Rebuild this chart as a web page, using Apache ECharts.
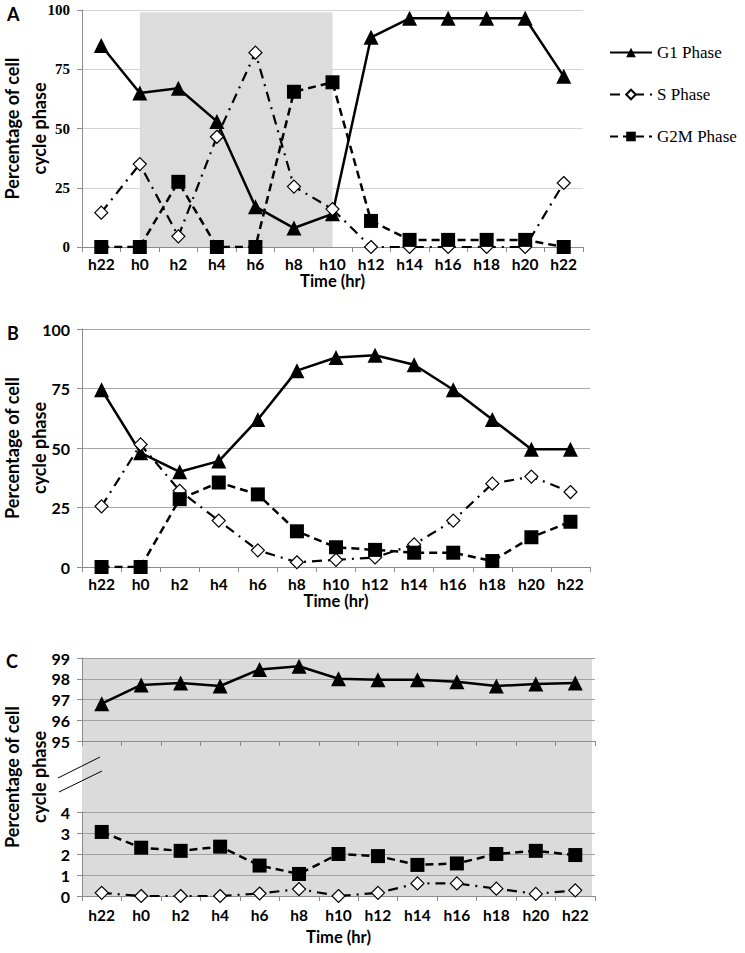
<!DOCTYPE html>
<html><head><meta charset="utf-8">
<script src="https://cdn.jsdelivr.net/npm/echarts@6/dist/echarts.min.js"></script>
<style>html,body{margin:0;padding:0;background:#fff}#c{width:745px;height:953px}</style>
</head><body><div id="c"></div>
<script>
const timeLabels = ['h22','h0','h2','h4','h6','h8','h10','h12','h14','h16','h18','h20','h22'];
const seriesNames = ['G1 Phase','S Phase','G2M Phase'];
const aG1  = [85,65,67,53,17,8,14,88.5,96.5,96.5,96.5,96.5,72];
const aS   = [14.5,35,4.5,46.5,82,25.5,16,0,0,0,0,0,27];
const aG2M = [0,0,27.5,0,0,65.5,69.5,11,3,3,3,3,0];
const bG1  = [74.5,48,40,44.5,62,82.5,88,89,85,74.5,62,49.5,49.5];
const bS   = [25.5,51.5,32,19.5,7,2,3,4,9.5,19.5,35,38,31.5];
const bG2M = [0,0,28.5,35.5,30.5,15,8.3,7.2,6,6,2.5,12.5,19];
const cG1  = [96.8,97.7,97.8,97.65,98.45,98.6,98.0,97.95,97.95,97.85,97.65,97.75,97.8];
const cS   = [0.15,0,0,0,0.12,0.33,0,0.15,0.6,0.6,0.35,0.1,0.27];
const cG2M = [3.05,2.3,2.15,2.35,1.45,1.05,2.0,1.9,1.48,1.55,2.0,2.15,1.95];
const aShade = [1, 6, 0, 99];  // shaded interval: category index from, to; y from, to
const yTicksAB = [0, 100, 25];
const yTicksCtop = [95, 99, 1];
const yTicksCbot = [0, 4, 1];

const sans = 'Lato';
const serif = 'Liberation Serif';
const yTitle = 'Percentage of cell\ncycle phase';

function xAx(grid, opts) {
  return Object.assign({
    type: 'category', gridIndex: grid, data: timeLabels, boundaryGap: true,
    axisLine: {show: true, lineStyle: {color: '#8c8c8c', width: 1}},
    axisTick: {show: true, length: 5, lineStyle: {color: '#8c8c8c'}},
    axisLabel: {fontFamily: sans, fontWeight: 'bold', fontSize: 15.5, lineHeight: 15, color: '#000', margin: 9, interval: 0},
    name: 'Time (hr)', nameLocation: 'middle', nameGap: 26, nameMoveOverlap: false,
    nameTextStyle: {fontFamily: sans, fontWeight: 'bold', fontSize: 16.5, lineHeight: 16, color: '#000'},
    splitLine: {show: false}
  }, opts || {});
}
function yAx(grid, mm, labelFont, labelSize, gridColor, opts) {
  return Object.assign({
    type: 'value', gridIndex: grid, min: mm[0], max: mm[1], interval: mm[2],
    axisLine: {show: true, lineStyle: {color: '#8c8c8c'}},
    axisTick: {show: true, length: 5, lineStyle: {color: '#8c8c8c'}},
    axisLabel: {fontFamily: labelFont, fontWeight: 'bold', fontSize: labelSize, color: '#000', margin: 12},
    splitLine: {show: true, lineStyle: {color: gridColor, width: 1}},
    name: yTitle, nameLocation: 'middle', nameGap: 30, nameRotate: 90, nameMoveOverlap: false,
    nameTextStyle: {fontFamily: sans, fontWeight: 'bold', fontSize: 18, color: '#000', lineHeight: 27}
  }, opts || {});
}
function g1(x, y, data, extra) {
  return Object.assign({name: seriesNames[0], type: 'line', xAxisIndex: x, yAxisIndex: y, data: data,
    symbol: 'triangle', symbolSize: 15, itemStyle: {color: '#000'},
    lineStyle: {color: '#000', width: 2.5, type: 'solid'}, animation: false}, extra || {});
}
function sP(x, y, data) {
  return {name: seriesNames[1], type: 'line', xAxisIndex: x, yAxisIndex: y, data: data,
    symbol: 'diamond', symbolSize: 13, itemStyle: {color: '#fff', borderColor: '#000', borderWidth: 1.2},
    lineStyle: {color: '#000', width: 2.2, type: [10, 6, 2, 6]}, animation: false};
}
function gm(x, y, data) {
  return {name: seriesNames[2], type: 'line', xAxisIndex: x, yAxisIndex: y, data: data,
    symbol: 'rect', symbolSize: 14, itemStyle: {color: '#000'},
    lineStyle: {color: '#000', width: 2.5, type: [8, 5]}, animation: false};
}
function grid(o) { return Object.assign({outerBoundsMode: 'none', containLabel: false}, o); }

const chart = echarts.init(document.getElementById('c'), null, {renderer: 'svg'});
chart.setOption({
  backgroundColor: '#fff',
  animation: false,
  legend: {
    data: seriesNames, orient: 'vertical', left: 604, top: 39,
    itemWidth: 42, itemHeight: 12, itemGap: 25,
    textStyle: {fontFamily: serif, fontSize: 17, color: '#000'}
  },
  grid: [
    grid({left: 82, top: 10, width: 501, height: 237}),
    grid({left: 82, top: 329, width: 508, height: 238}),
    grid({left: 82, top: 658, width: 510, height: 238, show: true, backgroundColor: '#dbdbdb', borderWidth: 0, z: -1}),
    grid({left: 82, top: 658, width: 513, height: 83}),
    grid({left: 82, top: 812, width: 513, height: 84})
  ],
  xAxis: [
    xAx(0),
    xAx(1),
    {type: 'category', gridIndex: 2, data: timeLabels, show: false},
    xAx(3, {axisLabel: {show: false}, name: ''}),
    xAx(4, {nameGap: 33, axisLabel: {fontFamily: sans, fontWeight: 'bold', fontSize: 15.5, lineHeight: 15, color: '#000', margin: 11, interval: 0}})
  ],
  yAxis: [
    yAx(0, yTicksAB, serif, 15, '#d4d4d4'),
    yAx(1, yTicksAB, sans, 16, '#a6a6a6'),
    yAx(2, [0, 1, 1], sans, 16, '#a6a6a6', {axisLine: {show: false}, axisTick: {show: false},
      axisLabel: {show: false}, splitLine: {show: false}}),
    yAx(3, yTicksCtop, sans, 16, '#a0a0a0', {name: ''}),
    yAx(4, yTicksCbot, sans, 16, '#a0a0a0', {name: ''})
  ],
  series: [
    g1(0, 0, aG1, {markArea: {silent: true, itemStyle: {color: '#dcdcdc'},
      data: [[{xAxis: aShade[0], yAxis: aShade[2]}, {xAxis: aShade[1], yAxis: aShade[3]}]]}}),
    sP(0, 0, aS),
    gm(0, 0, aG2M),
    g1(1, 1, bG1),
    sP(1, 1, bS),
    gm(1, 1, bG2M),
    g1(3, 3, cG1),
    sP(4, 4, cS),
    gm(4, 4, cG2M)
  ],
  graphic: [
    {type: 'text', left: 7, top: 5, style: {text: 'A', fontFamily: sans, fontWeight: 'bold', fontSize: 18, fill: '#000'}},
    {type: 'text', left: 7, top: 324, style: {text: 'B', fontFamily: sans, fontWeight: 'bold', fontSize: 18, fill: '#000'}},
    {type: 'text', left: 6, top: 652, style: {text: 'C', fontFamily: sans, fontWeight: 'bold', fontSize: 18, fill: '#000'}},
    {type: 'line', shape: {x1: 58, y1: 778, x2: 100, y2: 757}, style: {stroke: '#000', lineWidth: 1}},
    {type: 'line', shape: {x1: 59, y1: 792, x2: 102, y2: 771}, style: {stroke: '#000', lineWidth: 1}}
  ]
});
</script></body></html>
